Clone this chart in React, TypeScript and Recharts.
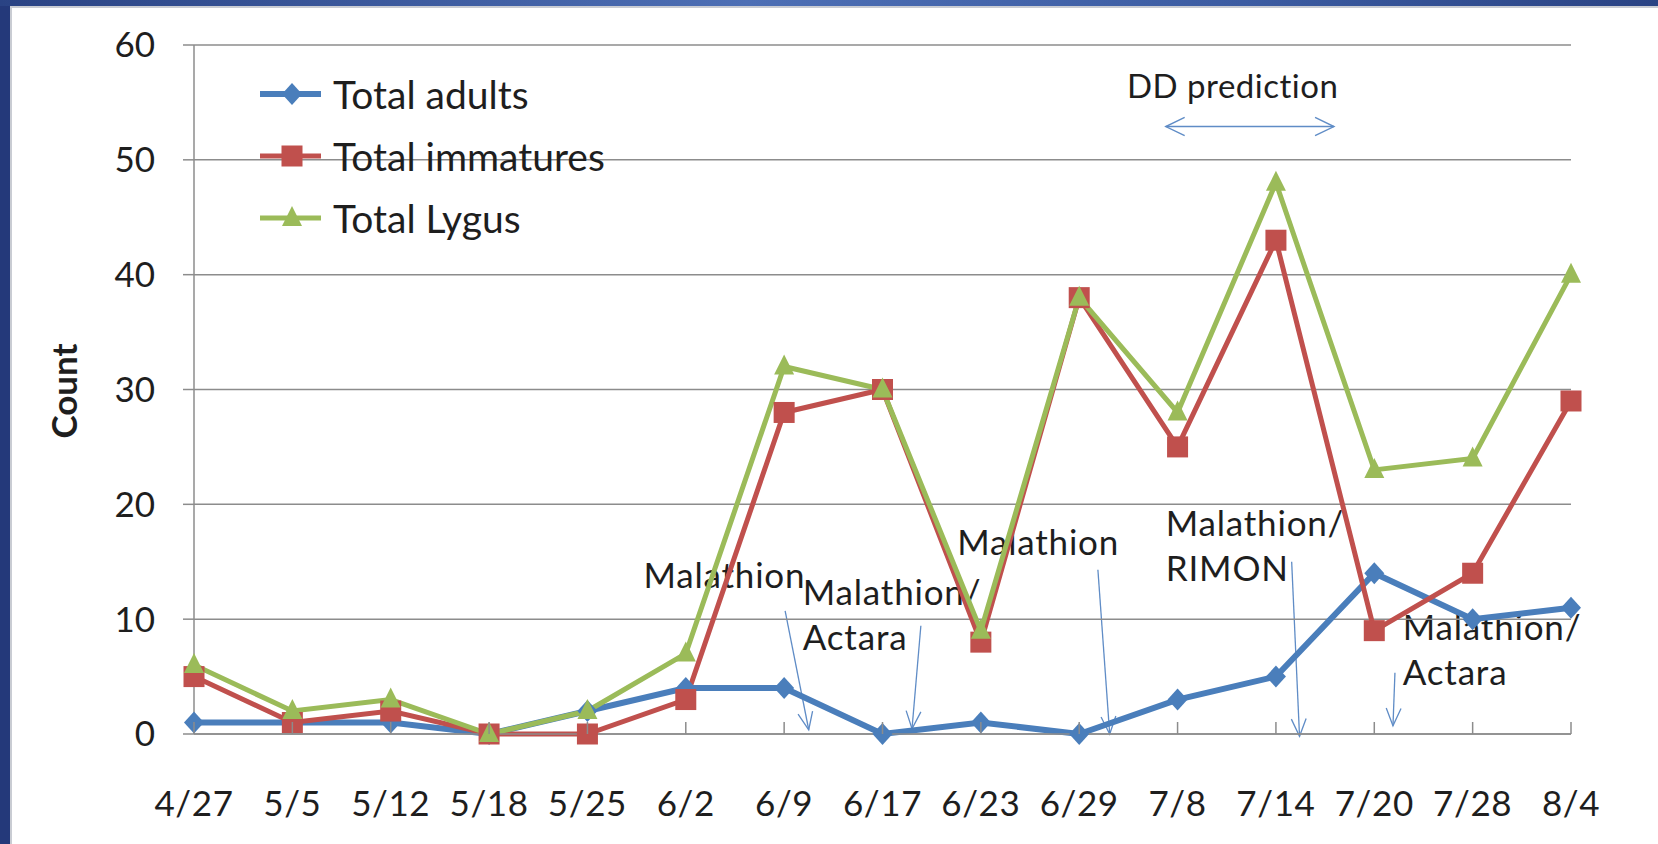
import React from 'react';
import { LineChart, Line, XAxis, YAxis, CartesianGrid, Legend } from 'recharts';

const dates = ['4/27', '5/5', '5/12', '5/18', '5/25', '6/2', '6/9', '6/17', '6/23', '6/29', '7/8', '7/14', '7/20', '7/28', '8/4'];
const totalAdults = [1, 1, 1, 0, 2, 4, 4, 0, 1, 0, 3, 5, 14, 10, 11];
const totalImmatures = [5, 1, 2, 0, 0, 3, 28, 30, 8, 38, 25, 43, 9, 14, 29];
const totalLygus = [6, 2, 3, 0, 2, 7, 32, 30, 9, 38, 28, 48, 23, 24, 40];
const yTicks = [0, 10, 20, 30, 40, 50, 60];

// spray notes, placed in chart units: [category index, count]
const sprayLabels = [
  { lines: ['Malathion'], at: [4.57, 12.74] },
  { lines: ['Malathion/', 'Actara'], at: [6.19, 11.26] },
  { lines: ['Malathion'], at: [7.76, 15.6] },
  { lines: ['Malathion/', 'RIMON'], at: [9.88, 17.2] },
  { lines: ['Malathion/', 'Actara'], at: [12.29, 8.2] },
];
const sprayArrows = [
  { from: [6.01, 10.73], to: [6.25, 0.37] },
  { from: [7.39, 9.43], to: [7.3, 0.46] },
  { from: [9.19, 14.3], to: [9.31, 0.0] },
  { from: [11.16, 15.0], to: [11.24, -0.2] },
  { from: [12.21, 5.34], to: [12.19, 0.72] },
];
const ddPrediction = { label: 'DD prediction', from: 9.88, to: 11.59, value: 52.9, labelAt: 10.56, labelValue: 55.4 };

const data = dates.map((date, i) => ({
  date,
  adults: totalAdults[i],
  immatures: totalImmatures[i],
  lygus: totalLygus[i],
}));

const W = 1658;
const H = 844;
const PLOT = { left: 194, right: 1571, top: 45, bottom: 734 };
const Y_MAX = 60;
const FONT = 'Lato, "Open Sans", sans-serif';
const TEXT = '#1e1e1e';
const AXIS_GRAY = '#8c8c8c';
const ARROW = '#5f8cc6';

const BLUE = '#4a7ebb';
const RED = '#c0504d';
const GREEN = '#9bbb59';

const xAt = (i: number) => PLOT.left + (i * (PLOT.right - PLOT.left)) / (dates.length - 1);
const yAt = (v: number) => PLOT.bottom - (v * (PLOT.bottom - PLOT.top)) / Y_MAX;

const Diamond = ({ cx, cy, color }: any) => (
  <path d={`M${cx},${cy - 11} L${cx + 10},${cy} L${cx},${cy + 11} L${cx - 10},${cy} Z`} fill={color} />
);
const Square = ({ cx, cy, color }: any) => (
  <rect x={cx - 10.5} y={cy - 10.5} width={21} height={21} fill={color} />
);
const Triangle = ({ cx, cy, color }: any) => (
  <path d={`M${cx},${cy - 12} L${cx + 10},${cy + 8} L${cx - 10},${cy + 8} Z`} fill={color} />
);

const series = [
  { key: 'adults', name: 'Total adults', color: BLUE, width: 6, Marker: Diamond },
  { key: 'immatures', name: 'Total immatures', color: RED, width: 5, Marker: Square },
  { key: 'lygus', name: 'Total Lygus', color: GREEN, width: 5, Marker: Triangle },
];

const DateTick = (props: any) => {
  const { x, payload } = props;
  return (
    <g>
      <line x1={x} y1={PLOT.bottom - 12} x2={x} y2={PLOT.bottom} stroke={AXIS_GRAY} strokeWidth={1.5} />
      <text
        x={x}
        y={PLOT.bottom + 82}
        textAnchor="middle"
        fontFamily={FONT}
        fontSize={35}
        letterSpacing={0.6}
        fill={TEXT}
      >
        {payload.value}
      </text>
    </g>
  );
};

const renderLegend = () => (
  <div style={{ fontFamily: FONT, fontSize: 39, color: TEXT }}>
    {series.map((s) => (
      <div key={s.key} style={{ display: 'flex', alignItems: 'center', height: 62, whiteSpace: 'nowrap' }}>
        <svg width={73} height={30} style={{ display: 'block' }}>
          <line x1={0} y1={15} x2={61} y2={15} stroke={s.color} strokeWidth={s.width} />
          <s.Marker cx={32} cy={15} color={s.color} />
        </svg>
        <span>{s.name}</span>
      </div>
    ))}
  </div>
);

const arrowHead = (x1: number, y1: number, x2: number, y2: number, len: number, ang: number) => {
  const a = Math.atan2(y2 - y1, x2 - x1);
  const p1 = [x2 - len * Math.cos(a - ang), y2 - len * Math.sin(a - ang)];
  const p2 = [x2 - len * Math.cos(a + ang), y2 - len * Math.sin(a + ang)];
  return `M${p1[0]},${p1[1]} L${x2},${y2} L${p2[0]},${p2[1]}`;
};

const Annotations = () => {
  const ddX1 = xAt(ddPrediction.from);
  const ddX2 = xAt(ddPrediction.to);
  const ddY = yAt(ddPrediction.value);
  return (
    <svg width={W} height={H} style={{ position: 'absolute', left: 0, top: 0 }}>
      <text
        transform={`translate(63, 391) rotate(-90)`}
        textAnchor="middle"
        dominantBaseline="central"
        fontFamily={FONT}
        fontWeight="bold"
        fontSize={35}
        fill={TEXT}
      >
        Count
      </text>
      <text
        x={xAt(ddPrediction.labelAt)}
        y={yAt(ddPrediction.labelValue)}
        textAnchor="middle"
        fontFamily={FONT}
        fontSize={33}
        letterSpacing={0.5}
        fill={TEXT}
      >
        {ddPrediction.label}
      </text>
      <line x1={ddX1} y1={ddY} x2={ddX2} y2={ddY} stroke={ARROW} strokeWidth={1.4} />
      <path d={arrowHead(ddX2, ddY, ddX1, ddY, 21, 0.45)} fill="none" stroke={ARROW} strokeWidth={1.4} />
      <path d={arrowHead(ddX1, ddY, ddX2, ddY, 21, 0.45)} fill="none" stroke={ARROW} strokeWidth={1.4} />
      {sprayArrows.map((a, i) => {
        const x1 = xAt(a.from[0]);
        const y1 = yAt(a.from[1]);
        const x2 = xAt(a.to[0]);
        const y2 = yAt(a.to[1]);
        return (
          <g key={i}>
            <line x1={x1} y1={y1} x2={x2} y2={y2} stroke={ARROW} strokeWidth={1.3} />
            <path d={arrowHead(x1, y1, x2, y2, 19, 0.4)} fill="none" stroke={ARROW} strokeWidth={1.3} />
          </g>
        );
      })}
      {sprayLabels.map((l, i) => (
        <text key={i} x={xAt(l.at[0])} y={yAt(l.at[1])} fontFamily={FONT} fontSize={35} letterSpacing={0.8} fill={TEXT}>
          {l.lines.map((t, j) => (
            <tspan key={j} x={xAt(l.at[0])} dy={j === 0 ? 0 : 45}>
              {t}
            </tspan>
          ))}
        </text>
      ))}
    </svg>
  );
};

export default function App() {
  return (
    <div style={{ position: 'absolute', left: 0, top: 0, width: W, height: H, background: '#ffffff', overflow: 'hidden' }}>
      <div style={{ position: 'absolute', left: 0, top: 0, width: 10, height: H, background: '#24397a' }} />
      <div style={{ position: 'absolute', left: 10, top: 0, width: 2, height: H, background: '#c9ccd3' }} />
      <div
        style={{
          position: 'absolute',
          left: 0,
          top: 0,
          width: W,
          height: 6,
          background: 'linear-gradient(to right, #2a4384, #4d6fb5 45%, #3c5ca2 75%, #2a4384)',
        }}
      />
      <div style={{ position: 'absolute', left: 10, top: 6, width: W - 10, height: 2, background: '#c9ccd3' }} />
      <Annotations />
      <div style={{ position: 'absolute', left: 0, top: 0 }}>
        <LineChart width={W} height={H} data={data} margin={{ top: PLOT.top, right: W - PLOT.right, bottom: 20, left: PLOT.left - 80 }}>
          <CartesianGrid vertical={false} stroke={AXIS_GRAY} strokeWidth={1.5} />
          <XAxis
            dataKey="date"
            interval={0}
            height={90}
            tickLine={false}
            tickSize={0}
            tickMargin={0}
            axisLine={{ stroke: AXIS_GRAY, strokeWidth: 1.5 }}
            tick={(p: any) => <DateTick {...p} />}
          />
          <YAxis
            domain={[0, Y_MAX]}
            ticks={yTicks}
            width={80}
            tickSize={11}
            tickMargin={28}
            axisLine={{ stroke: AXIS_GRAY, strokeWidth: 1.5 }}
            tickLine={{ stroke: AXIS_GRAY, strokeWidth: 1.5 }}
            tick={{ fontFamily: FONT, fontSize: 35, fill: TEXT }}
          />
          <Legend
            layout="vertical"
            align="center"
            verticalAlign="middle"
            content={renderLegend}
            wrapperStyle={{ left: 260, top: 63, width: 'auto' }}
          />
          {series.map((s) => (
            <Line
              key={s.key}
              dataKey={s.key}
              name={s.name}
              type="linear"
              stroke={s.color}
              strokeWidth={s.width}
              isAnimationActive={false}
              dot={(p: any) => <s.Marker key={`${s.key}-${p.index}`} cx={p.cx} cy={p.cy} color={s.color} />}
              activeDot={false}
            />
          ))}
        </LineChart>
      </div>
    </div>
  );
}
